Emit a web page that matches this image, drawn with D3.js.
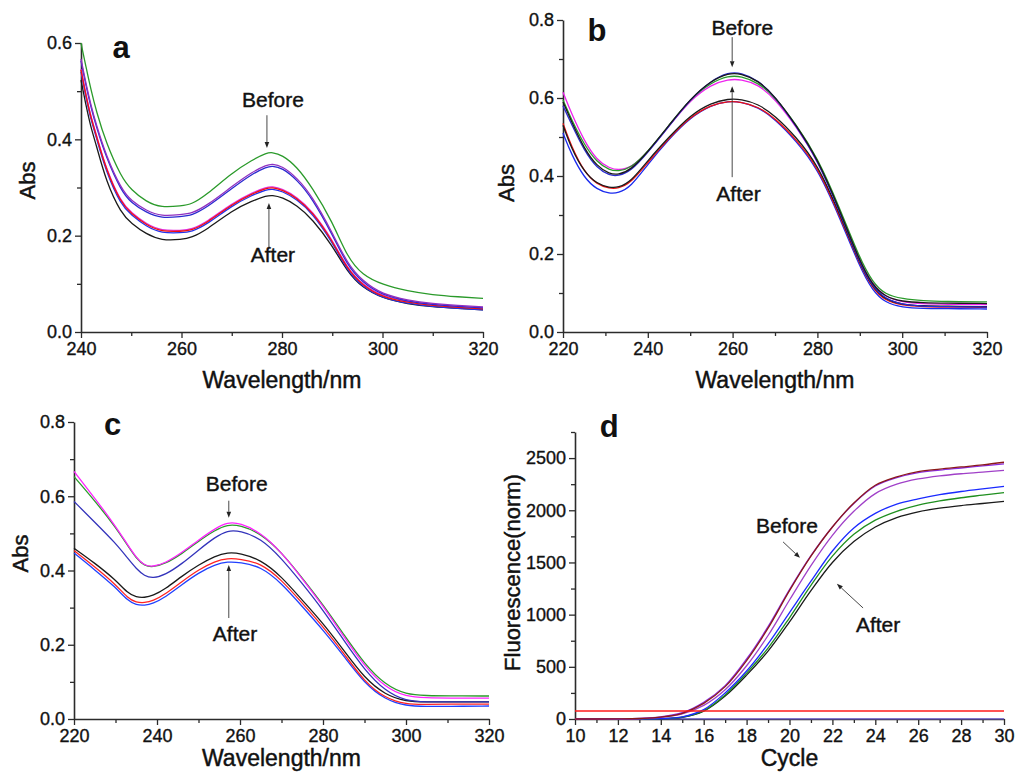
<!DOCTYPE html>
<html>
<head>
<meta charset="utf-8">
<script src="https://cdnjs.cloudflare.com/ajax/libs/d3/7.8.5/d3.min.js"></script>
<style>
  html, body { margin: 0; padding: 0; background: #fff; }
  svg { display: block; font-family: "Liberation Sans", Arial, sans-serif; }
</style>
</head>
<body>
<svg id="chart" width="1025" height="772"></svg>
<script>
// ---------------- Panel a data ----------------
const aWave = [240, 241, 242, 243, 245, 248, 250, 253, 256, 260, 262, 265, 270, 274, 277, 278, 280, 283, 286, 290, 293, 296, 300, 305, 310, 315, 320];
const aGreen   = [0.600, 0.550, 0.502, 0.460, 0.392, 0.322, 0.295, 0.270, 0.258, 0.262, 0.265, 0.285, 0.330, 0.357, 0.372, 0.373, 0.368, 0.343, 0.300, 0.230, 0.155, 0.118, 0.098, 0.085, 0.077, 0.073, 0.070];
const aMagenta = [0.567, 0.515, 0.470, 0.432, 0.366, 0.297, 0.272, 0.252, 0.240, 0.244, 0.246, 0.262, 0.302, 0.332, 0.347, 0.349, 0.345, 0.320, 0.282, 0.207, 0.142, 0.106, 0.078, 0.066, 0.059, 0.055, 0.052];
const aBlue    = [0.563, 0.511, 0.466, 0.428, 0.362, 0.293, 0.268, 0.248, 0.236, 0.240, 0.242, 0.258, 0.298, 0.328, 0.343, 0.345, 0.341, 0.316, 0.278, 0.203, 0.138, 0.103, 0.076, 0.064, 0.057, 0.053, 0.050];
const aRed     = [0.544, 0.490, 0.444, 0.410, 0.336, 0.267, 0.246, 0.222, 0.208, 0.209, 0.211, 0.226, 0.265, 0.287, 0.299, 0.300, 0.296, 0.278, 0.250, 0.190, 0.130, 0.097, 0.072, 0.061, 0.055, 0.051, 0.048];
const aBlue2   = [0.540, 0.486, 0.440, 0.406, 0.332, 0.263, 0.243, 0.219, 0.205, 0.206, 0.208, 0.223, 0.262, 0.284, 0.296, 0.297, 0.293, 0.275, 0.247, 0.187, 0.127, 0.094, 0.070, 0.059, 0.053, 0.049, 0.046];
const aPink    = [0.546, 0.492, 0.446, 0.412, 0.338, 0.269, 0.248, 0.224, 0.210, 0.211, 0.213, 0.228, 0.267, 0.289, 0.301, 0.302, 0.298, 0.280, 0.252, 0.192, 0.132, 0.099, 0.074, 0.063, 0.057, 0.053, 0.050];
const aBlack   = [0.523, 0.470, 0.423, 0.390, 0.312, 0.246, 0.226, 0.203, 0.190, 0.192, 0.196, 0.212, 0.252, 0.272, 0.283, 0.284, 0.280, 0.263, 0.235, 0.180, 0.125, 0.092, 0.070, 0.058, 0.052, 0.049, 0.046];

// ---------------- Panel b data ----------------
const bWave = [220, 222, 225, 228, 231, 233, 236, 240, 245, 250, 255, 259, 262, 266, 270, 275, 280, 285, 290, 293, 296, 300, 305, 310, 320];
const bBlackU   = [0.590, 0.540, 0.470, 0.425, 0.405, 0.403, 0.415, 0.462, 0.530, 0.598, 0.645, 0.664, 0.663, 0.645, 0.605, 0.530, 0.445, 0.320, 0.180, 0.120, 0.090, 0.078, 0.075, 0.074, 0.073];
const bBlueU    = [0.580, 0.533, 0.465, 0.420, 0.401, 0.400, 0.412, 0.460, 0.528, 0.597, 0.645, 0.666, 0.665, 0.646, 0.604, 0.528, 0.442, 0.316, 0.176, 0.116, 0.085, 0.070, 0.066, 0.065, 0.064];
const bGreenU   = [0.595, 0.545, 0.480, 0.435, 0.415, 0.412, 0.420, 0.462, 0.530, 0.598, 0.640, 0.657, 0.656, 0.640, 0.602, 0.532, 0.448, 0.325, 0.188, 0.128, 0.096, 0.085, 0.080, 0.078, 0.077];
const bMagentaU = [0.615, 0.560, 0.490, 0.440, 0.420, 0.415, 0.420, 0.460, 0.528, 0.595, 0.635, 0.648, 0.648, 0.635, 0.598, 0.527, 0.442, 0.318, 0.180, 0.122, 0.090, 0.076, 0.072, 0.071, 0.070];
const bBlackL   = [0.530, 0.470, 0.410, 0.380, 0.370, 0.370, 0.385, 0.440, 0.500, 0.556, 0.588, 0.598, 0.597, 0.585, 0.555, 0.500, 0.430, 0.310, 0.175, 0.115, 0.083, 0.070, 0.067, 0.066, 0.065];
const bRedL     = [0.535, 0.475, 0.410, 0.378, 0.368, 0.368, 0.382, 0.435, 0.497, 0.552, 0.583, 0.592, 0.590, 0.578, 0.548, 0.494, 0.425, 0.305, 0.172, 0.112, 0.080, 0.068, 0.065, 0.064, 0.063];
const bBlueL    = [0.510, 0.455, 0.395, 0.365, 0.355, 0.356, 0.372, 0.430, 0.495, 0.550, 0.582, 0.592, 0.590, 0.577, 0.546, 0.490, 0.420, 0.300, 0.166, 0.106, 0.075, 0.063, 0.060, 0.060, 0.059];

// ---------------- Panel c data ----------------
const cWave = [220, 225, 230, 233, 235, 237, 239, 242, 246, 250, 254, 257, 260, 265, 270, 275, 280, 285, 290, 295, 300, 305, 310, 320];
const cMagenta = [0.667, 0.595, 0.520, 0.468, 0.435, 0.413, 0.410, 0.420, 0.448, 0.482, 0.513, 0.530, 0.528, 0.502, 0.449, 0.378, 0.305, 0.222, 0.142, 0.085, 0.060, 0.057, 0.056, 0.056];
const cGreen   = [0.653, 0.588, 0.517, 0.466, 0.433, 0.412, 0.409, 0.418, 0.445, 0.479, 0.509, 0.524, 0.522, 0.500, 0.449, 0.380, 0.308, 0.228, 0.148, 0.092, 0.066, 0.063, 0.062, 0.062];
const cBlue    = [0.586, 0.530, 0.474, 0.432, 0.405, 0.385, 0.379, 0.388, 0.418, 0.455, 0.490, 0.508, 0.507, 0.487, 0.433, 0.365, 0.294, 0.212, 0.132, 0.075, 0.048, 0.046, 0.046, 0.046];
const cBlack   = [0.460, 0.420, 0.375, 0.338, 0.328, 0.327, 0.332, 0.350, 0.385, 0.415, 0.439, 0.449, 0.447, 0.429, 0.384, 0.320, 0.258, 0.185, 0.110, 0.065, 0.047, 0.046, 0.046, 0.046];
const cRed     = [0.454, 0.410, 0.363, 0.325, 0.314, 0.313, 0.318, 0.336, 0.370, 0.402, 0.425, 0.433, 0.431, 0.420, 0.375, 0.312, 0.249, 0.177, 0.100, 0.056, 0.039, 0.039, 0.040, 0.040];
const cBlue2   = [0.447, 0.402, 0.355, 0.318, 0.307, 0.306, 0.311, 0.328, 0.362, 0.394, 0.416, 0.424, 0.422, 0.411, 0.366, 0.303, 0.240, 0.170, 0.096, 0.052, 0.035, 0.034, 0.034, 0.035];

// ---------------- Panel d data ----------------
const dCycle = [10, 11, 12, 13, 14, 15, 16, 17, 18, 19, 20, 21, 22, 23, 24, 25, 26, 27, 28, 29, 30];
const dBrown   = [0, 0, 1, 5, 18, 55, 150, 310, 560, 870, 1230, 1560, 1840, 2070, 2240, 2320, 2370, 2395, 2415, 2435, 2460];
const dPurple  = [0, 0, 1, 5, 20, 60, 160, 320, 575, 885, 1240, 1565, 1840, 2065, 2232, 2312, 2360, 2385, 2405, 2425, 2445];
const dViolet  = [0, 0, 1, 4, 15, 48, 130, 280, 510, 800, 1140, 1470, 1760, 1990, 2160, 2250, 2300, 2330, 2350, 2365, 2382];
const dBlue    = [0, 0, 0, 1, 3, 20, 90, 250, 460, 720, 1020, 1320, 1610, 1830, 1970, 2060, 2110, 2150, 2180, 2205, 2228];
const dGreen   = [0, 0, 0, 1, 3, 18, 80, 230, 440, 680, 970, 1280, 1560, 1770, 1905, 1990, 2050, 2090, 2120, 2145, 2170];
const dBlack   = [0, 0, 0, 1, 2, 15, 75, 220, 420, 650, 930, 1230, 1500, 1700, 1840, 1930, 1985, 2020, 2045, 2065, 2085];
const dBase    = [2, 2, 2, 2, 2, 2, 2, 2, 2, 2, 2, 2, 2, 2, 2, 2, 2, 2, 2, 2, 2];
const dThreshold = 77;

// ---------------- Tick labels ----------------
const aXTicks = [240, 260, 280, 300, 320];
const aYTicks = [0.0, 0.2, 0.4, 0.6];
const bcXTicks = [220, 240, 260, 280, 300, 320];
const bcYTicks = [0.0, 0.2, 0.4, 0.6, 0.8];
const dXTicks = [10, 12, 14, 16, 18, 20, 22, 24, 26, 28, 30];
const dYTicks = [0, 500, 1000, 1500, 2000, 2500];

// ---------------- Drawing ----------------
const svg = d3.select("#chart");
const AXIS = "#2b2b2b";
const TXT = "#111";

function heavy(sel, w) {
  return sel.attr("fill", TXT).attr("stroke", TXT).attr("stroke-width", w).attr("paint-order", "stroke");
}

function drawPanel(p) {
  const x = d3.scaleLinear().domain(p.xDomain).range(p.xRange);
  const y = d3.scaleLinear().domain(p.yDomain).range(p.yRange);
  const g = svg.append("g");

  // minor ticks
  g.append("g").attr("transform", `translate(0,${p.yRange[0]})`)
    .call(d3.axisBottom(x).tickValues(p.xMinor).tickSize(4).tickFormat("").tickSizeOuter(0))
    .call(s => s.select(".domain").remove());
  g.append("g").attr("transform", `translate(${p.xRange[0]},0)`)
    .call(d3.axisLeft(y).tickValues(p.yMinor).tickSize(4).tickFormat("").tickSizeOuter(0))
    .call(s => s.select(".domain").remove());

  // major axes
  const xa = g.append("g").attr("transform", `translate(0,${p.yRange[0]})`)
    .call(d3.axisBottom(x).tickValues(p.xTicks).tickSize(6).tickSizeOuter(0).tickPadding(4).tickFormat(p.xFmt));
  const ya = g.append("g").attr("transform", `translate(${p.xRange[0]},0)`)
    .call(d3.axisLeft(y).tickValues(p.yTicks).tickSize(6).tickSizeOuter(0).tickPadding(3).tickFormat(p.yFmt));
  [xa, ya].forEach(a => {
    a.select(".domain").attr("stroke", AXIS).attr("stroke-width", 1.6);
    heavy(a.selectAll("text"), 0.35).style("font-size", "18px")
      .style("font-family", '"Liberation Sans", Arial, sans-serif');
  });
  g.selectAll(".tick line").attr("stroke", AXIS).attr("stroke-width", 1.3);

  // series
  const line = d3.line().x(d => x(d[0])).y(d => y(d[1])).curve(p.curve);
  p.series.forEach(s => {
    g.append("path").datum(p.xs.map((v, i) => [v, s.values[i]]))
      .attr("fill", "none").attr("stroke", s.color).attr("stroke-width", s.width || 1.3)
      .attr("d", line);
  });
  if (p.extra) p.extra(g, x, y);

  // axis titles
  const xMid = (p.xRange[0] + p.xRange[1]) / 2;
  heavy(g.append("text"), 0.45).attr("x", xMid + (p.xTitleDx || 0)).attr("y", p.yRange[0] + p.xTitleGap)
    .attr("text-anchor", "middle").style("font-size", "23px").text(p.xTitle);
  const yMid = (p.yRange[0] + p.yRange[1]) / 2;
  heavy(g.append("text"), 0.45).attr("transform", `translate(${p.xRange[0] - p.yTitleOffset},${yMid + (p.yTitleDy || 0)}) rotate(-90)`)
    .attr("text-anchor", "middle").style("font-size", "22px").text(p.yTitle);

  // panel letter
  g.append("text").attr("x", x(p.letterPos[0])).attr("y", y(p.letterPos[1]))
    .attr("text-anchor", "middle").style("font-size", "31px").style("font-weight", "bold")
    .attr("fill", TXT).text(p.letter);

  // annotations
  p.notes.forEach(n => {
    heavy(g.append("text"), 0.4).attr("x", x(n.tx)).attr("y", y(n.ty)).attr("dy", "0.35em")
      .attr("text-anchor", "middle").style("font-size", "21px").text(n.text);
    const x1 = x(n.from[0]), y1 = y(n.from[1]), x2 = x(n.to[0]), y2 = y(n.to[1]);
    const ang = Math.atan2(y2 - y1, x2 - x1);
    const L = 6, W = 2.3;
    const bx = x2 - L * Math.cos(ang), by = y2 - L * Math.sin(ang);
    g.append("line").attr("x1", x1).attr("y1", y1).attr("x2", bx).attr("y2", by)
      .attr("stroke", "#333").attr("stroke-width", 0.9);
    g.append("path")
      .attr("d", `M${x2},${y2} L${bx - W * Math.sin(ang)},${by + W * Math.cos(ang)} L${bx + W * Math.sin(ang)},${by - W * Math.cos(ang)} Z`)
      .attr("fill", "#222");
  });
}

const f1 = d3.format(".1f");
const smooth = d3.curveBasis;
const sigmoid = d3.curveCatmullRom.alpha(0.5);

drawPanel({
  xDomain: [240, 320], xRange: [81, 483], yDomain: [0, 0.6], yRange: [332, 43],
  xTicks: aXTicks, yTicks: aYTicks, xMinor: [250, 270, 290, 310], yMinor: [0.1, 0.3, 0.5],
  xFmt: d3.format("d"), yFmt: f1, xs: aWave, curve: smooth,
  series: [
    { values: aBlack, color: "#1a1a1a" },
    { values: aBlue2, color: "#2233ee" },
    { values: aPink, color: "#e030e0" },
    { values: aRed, color: "#ee1111" },
    { values: aBlue, color: "#2a2ad0" },
    { values: aMagenta, color: "#9030c0" },
    { values: aGreen, color: "#2a9a2a" }
  ],
  xTitle: "Wavelength/nm", xTitleGap: 56, yTitle: "Abs", yTitleOffset: 46, yTitleDy: -7,
  letter: "a", letterPos: [248, 0.568],
  notes: [
    { text: "Before", tx: 278.2, ty: 0.482, from: [277, 0.45], to: [277, 0.382] },
    { text: "After", tx: 278.2, ty: 0.160, from: [277.4, 0.176], to: [277.4, 0.268] }
  ]
});

drawPanel({
  xDomain: [220, 320], xRange: [563, 987], yDomain: [0, 0.8], yRange: [332, 20],
  xTicks: bcXTicks, yTicks: bcYTicks, xMinor: [230, 250, 270, 290, 310], yMinor: [0.1, 0.3, 0.5, 0.7],
  xFmt: d3.format("d"), yFmt: f1, xs: bWave, curve: smooth,
  series: [
    { values: bBlueL, color: "#1a2aee" },
    { values: bRedL, color: "#ee1111" },
    { values: bBlackL, color: "#1a1a1a" },
    { values: bMagentaU, color: "#ee22ee" },
    { values: bGreenU, color: "#2a9a2a" },
    { values: bBlueU, color: "#2a2ad0" },
    { values: bBlackU, color: "#1a1a1a" }
  ],
  xTitle: "Wavelength/nm", xTitleGap: 56, yTitle: "Abs", yTitleOffset: 49, yTitleDy: 7,
  letter: "b", letterPos: [228, 0.745],
  notes: [
    { text: "Before", tx: 262.3, ty: 0.780, from: [259.9, 0.756], to: [259.9, 0.679] },
    { text: "After", tx: 261.4, ty: 0.356, from: [259.9, 0.397], to: [259.9, 0.630] }
  ]
});

drawPanel({
  xDomain: [220, 320], xRange: [74, 489], yDomain: [0, 0.8], yRange: [719, 422],
  xTicks: bcXTicks, yTicks: bcYTicks, xMinor: [230, 250, 270, 290, 310], yMinor: [0.1, 0.3, 0.5, 0.7],
  xFmt: d3.format("d"), yFmt: f1, xs: cWave, curve: smooth,
  series: [
    { values: cBlue2, color: "#2040ff" },
    { values: cRed, color: "#ff2222" },
    { values: cBlack, color: "#1a1a1a" },
    { values: cBlue, color: "#3333bb" },
    { values: cGreen, color: "#2a9a2a" },
    { values: cMagenta, color: "#ff22ff" }
  ],
  xTitle: "Wavelength/nm", xTitleGap: 47, yTitle: "Abs", yTitleOffset: 46, yTitleDy: -17,
  letter: "c", letterPos: [229.3, 0.765],
  notes: [
    { text: "Before", tx: 259.2, ty: 0.634, from: [257.3, 0.588], to: [257.3, 0.542] },
    { text: "After", tx: 258.8, ty: 0.229, from: [257.3, 0.272], to: [257.3, 0.415] }
  ]
});

drawPanel({
  xDomain: [10, 30], xRange: [575, 1004], yDomain: [0, 2750], yRange: [719, 432],
  xTicks: dXTicks, yTicks: dYTicks, xMinor: [11, 13, 15, 17, 19, 21, 23, 25, 27, 29], yMinor: [250, 750, 1250, 1750, 2250, 2750],
  xFmt: d3.format("d"), yFmt: d3.format("d"), xs: dCycle, curve: sigmoid,
  series: [
    { values: dBase, color: "#6a5acd" },
    { values: dBlack, color: "#1a1a1a" },
    { values: dGreen, color: "#1f8f1f" },
    { values: dBlue, color: "#1a2aff" },
    { values: dViolet, color: "#a040c8" },
    { values: dPurple, color: "#8a2be2" },
    { values: dBrown, color: "#8b1a1a" }
  ],
  extra: (g, x, y) => {
    g.append("line").attr("x1", x(10)).attr("x2", x(30)).attr("y1", y(dThreshold)).attr("y2", y(dThreshold))
      .attr("stroke", "#ff1a1a").attr("stroke-width", 1.5);
  },
  xTitle: "Cycle", xTitleGap: 47, yTitle: "Fluorescence(norm)", yTitleOffset: 55, yTitleDy: -3,
  letter: "d", letterPos: [11.6, 2700],
  notes: [
    { text: "Before", tx: 19.88, ty: 1851, from: [19.7, 1697], to: [20.49, 1544] },
    { text: "After", tx: 24.13, ty: 901, from: [23.43, 1064], to: [22.21, 1295] }
  ]
});
</script>
</body>
</html>
